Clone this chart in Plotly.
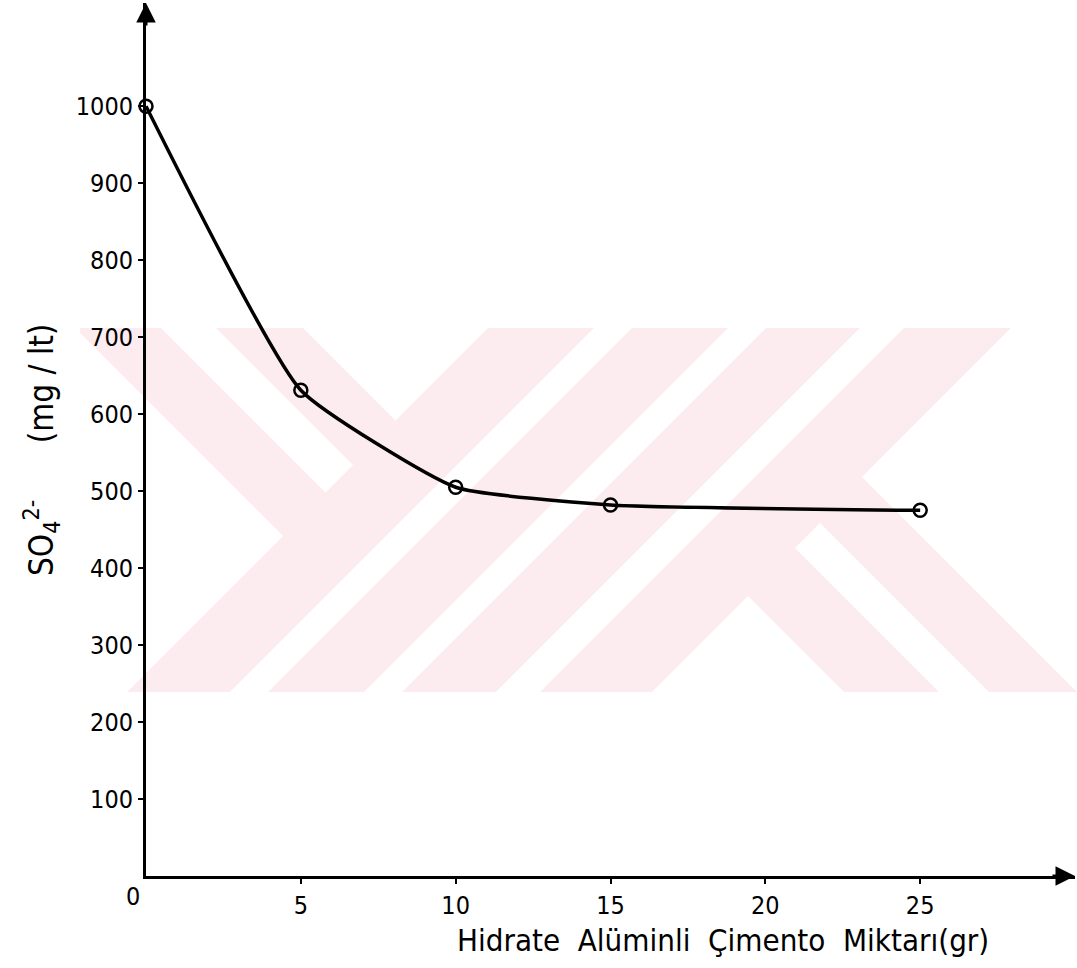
import plotly.graph_objects as go

# ---------------- data ----------------
cement_g = [0, 5, 10, 15, 25]
so4_mg_lt = [1000, 631, 505, 482, 475]
x_tick_vals = [5, 10, 15, 20, 25]
x_tick_text = ["5", "10", "15", "20", "25"]
y_tick_vals = [100, 200, 300, 400, 500, 600, 700, 800, 900, 1000]
y_tick_text = ["100", "200", "300", "400", "500", "600", "700", "800", "900", "1000"]

# ---------------- layout constants ----------------
W, H = 1077, 968
ML, MR, MT, MB = 146, 2, 3, 92
PW, PH = W - ML - MR, H - MT - MB
FONT = "DejaVu Sans Condensed, Liberation Sans Narrow, DejaVu Sans, sans-serif"
PINK = "#FDECEF"


def to_paper(px, py):
    return (px - ML) / PW, 1 - (py - MT) / PH


def clip(poly, a, b, c):
    """Keep part of polygon where a*x + b*y <= c."""
    out = []
    n = len(poly)
    for i in range(n):
        p, q = poly[i], poly[(i + 1) % n]
        fp = a * p[0] + b * p[1] - c
        fq = a * q[0] + b * q[1] - c
        if fp <= 0:
            out.append(p)
        if (fp < 0 < fq) or (fq < 0 < fp):
            t = fp / (fp - fq)
            out.append((p[0] + t * (q[0] - p[0]), p[1] + t * (q[1] - p[1])))
    return out


# watermark band (decorative background logo from the scan)
BX0, BX1, BY0, BY1 = 80, 1077, 328, 692
band = [(BX0, BY0), (BX1, BY0), (BX1, BY1), (BX0, BY1)]


def u_lt(k): return (1, -1, k)
def u_gt(k): return (-1, 1, -k)
def v_lt(k): return (1, 1, k)
def v_gt(k): return (-1, -1, -k)


white_regions = [
    [u_lt(-253), v_lt(819)],
    [u_gt(-167), u_lt(-112), v_lt(818)],
    [u_gt(-25), v_lt(816)],
    [v_gt(922), v_lt(960)],
    [v_gt(1056), v_lt(1094)],
    [v_gt(1188), v_lt(1232)],
    [v_gt(1339), u_gt(385)],
    [v_gt(1343), u_gt(247), u_lt(297)],
    [v_gt(1344), u_lt(152)],
]


def path_of(poly):
    pts = [to_paper(x, y) for x, y in poly]
    return "M " + " L ".join(f"{x:.5f},{y:.5f}" for x, y in pts) + " Z"


shapes = [dict(type="path", xref="paper", yref="paper", path=path_of(band),
               fillcolor=PINK, line=dict(width=0), layer="below")]
for hp in white_regions:
    poly = band
    for a, b, c in hp:
        poly = clip(poly, a, b, c)
        if not poly:
            break
    if len(poly) >= 3:
        shapes.append(dict(type="path", xref="paper", yref="paper", path=path_of(poly),
                           fillcolor="white", line=dict(width=0), layer="below"))

# ---------------- figure ----------------
fig = go.Figure()
fig.add_trace(go.Scatter(
    x=cement_g, y=so4_mg_lt, mode="lines+markers",
    line=dict(shape="spline", smoothing=0.45, color="black", width=3.5),
    marker=dict(symbol="circle-open", size=13, color="black", line=dict(width=2.5)),
    cliponaxis=False, showlegend=False, hoverinfo="skip",
))

XMAX, YMAX = 30, 1134

axis_common = dict(showline=True, linecolor="black", linewidth=3, ticks="outside",
                   ticklen=5, tickwidth=2, tickcolor="black", showgrid=False,
                   zeroline=False, tickfont=dict(family=FONT, size=25, color="black"))

fig.update_layout(
    width=W, height=H, autosize=False,
    margin=dict(l=ML, r=MR, t=MT, b=MB, pad=0),
    paper_bgcolor="white", plot_bgcolor="rgba(0,0,0,0)",
    xaxis=dict(range=[0, XMAX], tickvals=x_tick_vals, ticktext=x_tick_text, **axis_common),
    yaxis=dict(range=[0, YMAX], tickvals=y_tick_vals, ticktext=y_tick_text, **axis_common),
    shapes=shapes,
    font=dict(family=FONT, color="black"),
)

annotations = [
    # axis arrowheads
    dict(x=XMAX, y=0, xref="x", yref="y", ax=-24, ay=0, text="", showarrow=True,
         arrowhead=2, arrowsize=1.3, arrowwidth=3, arrowcolor="black"),
    dict(x=0, y=YMAX, xref="x", yref="y", ax=0, ay=24, text="", showarrow=True,
         arrowhead=2, arrowsize=1.3, arrowwidth=3, arrowcolor="black"),
    # origin label
    dict(x=133, y=897, xref="paper", yref="paper", text="0", showarrow=False,
         font=dict(family=FONT, size=25, color="black")),
    # x axis title
    dict(x=723, y=940, xref="paper", yref="paper",
         text="Hidrate  Alüminli  Çimento  Miktarı(gr)", showarrow=False,
         font=dict(family=FONT, size=31, color="black")),
    # y axis title
    dict(x=42, y=450, xref="paper", yref="paper", textangle=-90,
         text="SO<sub>4</sub><sup>2-</sup>      (mg / lt)", showarrow=False,
         font=dict(family=FONT, size=33, color="black")),
]
for a in annotations:
    if a["xref"] == "paper":
        a["x"], a["y"] = to_paper(a["x"], a["y"])
        a["xanchor"] = "center"
        a["yanchor"] = "middle"
    fig.add_annotation(**a)

fig.write_html("out.html")
